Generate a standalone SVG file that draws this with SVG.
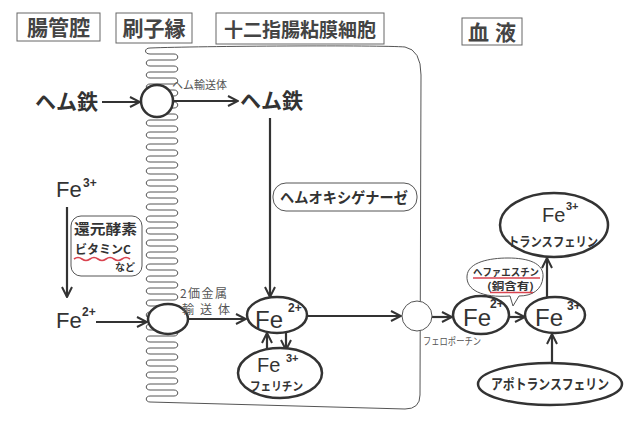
<svg xmlns="http://www.w3.org/2000/svg" width="632" height="424" viewBox="0 0 632 424">
<defs>
<style>
text{font-family:"Noto Sans CJK JP","Noto Sans",sans-serif;fill:#333}
.hdr{font-size:21px;font-weight:bold;text-anchor:middle;fill:#444}
.hbox{fill:none;stroke:#666;stroke-width:1}
.thin{fill:none;stroke:#555;stroke-width:1}
.node{fill:#fff;stroke:#333;stroke-width:2.5}
.fe{font-family:"Liberation Sans","Noto Sans",sans-serif;font-size:22px}
.sup{font-family:"Liberation Sans","Noto Sans",sans-serif;font-size:12px;font-weight:bold}
.big{font-size:21px;font-weight:bold}
.mid{font-weight:bold}
.small{font-size:11px;fill:#555}
.arr{fill:none;stroke:#333;stroke-width:2.2;marker-end:url(#ah)}
.red{fill:none;stroke:#d9434f;stroke-width:1.6}
</style>
<marker id="ah" viewBox="0 0 12 12" refX="11" refY="6" markerWidth="12" markerHeight="12" markerUnits="userSpaceOnUse" orient="auto">
<path d="M1,1 L11,6 L1,11" fill="none" stroke="#333" stroke-width="2"/>
</marker>
</defs>
<rect width="632" height="424" fill="#fff"/>

<g id="headers">
<rect class="hbox" x="17" y="13" width="83" height="28"/>
<text class="hdr" x="58.5" y="35">腸管腔</text>
<rect class="hbox" x="116" y="13" width="76" height="30"/>
<text class="hdr" x="154" y="36">刷子縁</text>
<rect class="hbox" x="216" y="13" width="168" height="31"/>
<text class="hdr" x="300" y="37" style="font-size:19px">十二指腸粘膜細胞</text>
<rect class="hbox" x="462" y="18" width="60" height="27"/>
<text class="hdr" x="495" y="40" style="letter-spacing:6px">血液</text>
</g>

<g id="cell">
<path class="thin" d="M 405 47 C 380 45 200 46 150 48 c -6 0 -6 6 0 6
h 24 c 5 0 5 6 0 6 h -24 c -5 0 -5 6 0 6
h 24 c 5 0 5 6 0 6 h -24 c -5 0 -5 6 0 6
h 24 c 5 0 5 6 0 6 h -24 c -5 0 -5 6 0 6
h 24 c 5 0 5 6 0 6 h -24 c -5 0 -5 6 0 6
h 24 c 5 0 5 6 0 6 h -24 c -5 0 -5 6 0 6
h 24 c 5 0 5 6 0 6 h -24 c -5 0 -5 6 0 6
h 24 c 5 0 5 6 0 6 h -24 c -5 0 -5 6 0 6
h 24 c 5 0 5 6 0 6 h -24 c -5 0 -5 6 0 6
h 24 c 5 0 5 6 0 6 h -24 c -5 0 -5 6 0 6
h 24 c 5 0 5 6 0 6 h -24 c -5 0 -5 6 0 6
h 24 c 5 0 5 6 0 6 h -24 c -5 0 -5 6 0 6
h 24 c 5 0 5 6 0 6 h -24 c -5 0 -5 6 0 6
h 24 c 5 0 5 6 0 6 h -24 c -5 0 -5 6 0 6
h 24 c 5 0 5 6 0 6 h -24 c -5 0 -5 6 0 6
h 24 c 5 0 5 6 0 6 h -24 c -5 0 -5 6 0 6
h 24 c 5 0 5 6 0 6 h -24 c -5 0 -5 6 0 6
h 24 c 5 0 5 6 0 6 h -24 c -5 0 -5 6 0 6
h 24 c 5 0 5 6 0 6 h -24 c -5 0 -5 6 0 6
h 24 c 5 0 5 6 0 6 h -24 c -5 0 -5 6 0 6
h 24 c 5 0 5 6 0 6 h -24 c -5 0 -5 6 0 6
h 24 c 5 0 5 6 0 6 h -24 c -5 0 -5 6 0 6
h 24 c 5 0 5 6 0 6 h -24 c -5 0 -5 6 0 6
h 24 c 5 0 5 6 0 6 h -24 c -5 0 -5 6 0 6
h 24 c 5 0 5 6 0 6 h -24 c -5 0 -5 6 0 6
h 24 c 5 0 5 6 0 6 h -24 c -5 0 -5 6 0 6
h 24 c 5 0 5 6 0 6 h -24 c -5 0 -5 6 0 6
h 24 c 5 0 5 6 0 6 h -24 c -5 0 -5 6 0 6
h 24 c 5 0 5 6 0 6 h -24 c -5 0 -5 6 0 6
h 24 c 5 0 5 6 0 6 h -24 c -5 0 -5 6 0 6
L 405 409 Q 420 409 420 395 L 421 75 Q 421 50 405 47 Z"/>
</g>

<g id="connectors">
<line class="arr" x1="102" y1="102" x2="140" y2="102"/>
<line class="arr" x1="173" y1="101" x2="238" y2="101"/>
<line class="arr" x1="270" y1="118" x2="270" y2="297"/>
<line class="arr" x1="67" y1="207" x2="67" y2="297"/>
<line class="arr" x1="96" y1="322" x2="147" y2="322"/>
<line class="arr" x1="188" y1="319" x2="246" y2="319"/>
<line class="arr" x1="267" y1="350" x2="267" y2="333"/>
<line class="arr" x1="286" y1="333" x2="286" y2="350"/>
<line class="arr" x1="307" y1="316" x2="401" y2="316"/>
<line class="arr" x1="432" y1="317" x2="452" y2="317"/>
<line class="arr" x1="509" y1="317" x2="525" y2="317"/>
<line class="arr" x1="552" y1="363" x2="552" y2="334"/>
<line class="arr" x1="547" y1="297" x2="547" y2="258"/>
</g>

<g id="heme-left"><text class="big" x="35" y="109">ヘム鉄</text></g>
<g id="heme-transporter">
<circle class="node" cx="157" cy="101" r="16"/>
<text class="small" x="172" y="89">ヘム輸送体</text>
</g>
<g id="heme-right"><text class="big" x="240" y="108">ヘム鉄</text></g>
<g id="heme-oxygenase">
<rect class="thin" x="273" y="183" width="144" height="28" rx="13"/>
<text class="mid" x="280" y="203" style="font-size:15px" textLength="128" lengthAdjust="spacingAndGlyphs">ヘムオキシゲナーゼ</text>
</g>

<g id="fe3-left"><text class="fe" x="56" y="197">Fe</text><text class="sup" x="83" y="187">3+</text></g>
<g id="reductase">
<rect class="thin" x="71" y="216" width="71" height="60" rx="10"/>
<text class="mid" x="74" y="234" style="font-size:14px" textLength="63" lengthAdjust="spacingAndGlyphs">還元酵素</text>
<text class="mid" x="75" y="254" style="font-size:12px" textLength="56" lengthAdjust="spacingAndGlyphs">ビタミンC</text>
<path class="red" d="M74 259 q 4 -3 8 0 t 8 0 t 8 0 t 8 0 t 8 0 t 8 0 t 8 0"/>
<text class="mid" x="115" y="271" style="font-size:10px">など</text>
</g>
<g id="fe2-left"><text class="fe" x="56" y="328">Fe</text><text class="sup" x="82" y="316">2+</text></g>
<g id="dmt">
<ellipse class="node" cx="168" cy="319" rx="20" ry="15"/>
<text class="small" x="180" y="298" style="font-size:12px" textLength="47">2価金属</text>
<text class="small" x="182" y="314" style="font-size:12px" textLength="48">輸送体</text>
</g>

<g id="fe2-cell">
<ellipse class="node" cx="277" cy="315" rx="30" ry="18"/>
<text class="fe" x="255" y="328" style="font-size:24px">Fe</text><text class="sup" x="288" y="312">2+</text>
</g>
<g id="ferritin">
<ellipse class="node" cx="280" cy="373" rx="42" ry="25"/>
<text class="fe" x="257" y="372" style="font-size:20px">Fe</text><text class="sup" x="286" y="362" style="font-size:11px">3+</text>
<text class="mid" x="250" y="391" style="font-size:12px" textLength="53" lengthAdjust="spacingAndGlyphs">フェリチン</text>
</g>

<g id="ferroportin">
<circle cx="417" cy="316" r="15" fill="#fff" stroke="#555" stroke-width="1"/>
<text class="small" x="423" y="345" style="font-size:10px" textLength="58" lengthAdjust="spacingAndGlyphs">フェロポーチン</text>
</g>

<g id="fe2-blood">
<ellipse class="node" cx="481" cy="315" rx="28" ry="19"/>
<text class="fe" x="463" y="326" style="font-size:24px">Fe</text><text class="sup" x="490" y="308">2+</text>
</g>
<g id="fe3-blood">
<ellipse class="node" cx="555" cy="315" rx="30" ry="18"/>
<text class="fe" x="535" y="326" style="font-size:24px">Fe</text><text class="sup" x="567" y="310">3+</text>
</g>
<g id="hephaestin">
<path class="thin" d="M 510 296 C 482 298 466 290 467 276 C 468 262 490 258 508 258 C 528 258 544 263 543 277 C 542 290 532 296 519 296 L 513 306 Z"/>
<text class="mid" x="473" y="276" style="font-size:10px" textLength="66" lengthAdjust="spacingAndGlyphs">ヘファエスチン</text>
<line class="red" x1="473" y1="278" x2="540" y2="278"/>
<text class="mid" x="487" y="290" style="font-size:10px" textLength="47" lengthAdjust="spacingAndGlyphs">(銅含有)</text>
<line class="red" x1="490" y1="292.5" x2="533" y2="292.5"/>
</g>
<g id="transferrin">
<ellipse class="node" cx="554" cy="225" rx="54" ry="32"/>
<text class="fe" x="542" y="222" style="font-size:20px">Fe</text><text class="sup" x="566" y="210" style="font-size:11px">3+</text>
<text class="mid" x="508" y="246" style="font-size:13px" textLength="90" lengthAdjust="spacingAndGlyphs">トランスフェリン</text>
</g>
<g id="apotransferrin">
<ellipse class="node" cx="550" cy="384" rx="72" ry="21"/>
<text class="mid" x="491" y="389" style="font-size:14px" textLength="118" lengthAdjust="spacingAndGlyphs">アポトランスフェリン</text>
</g>
</svg>
